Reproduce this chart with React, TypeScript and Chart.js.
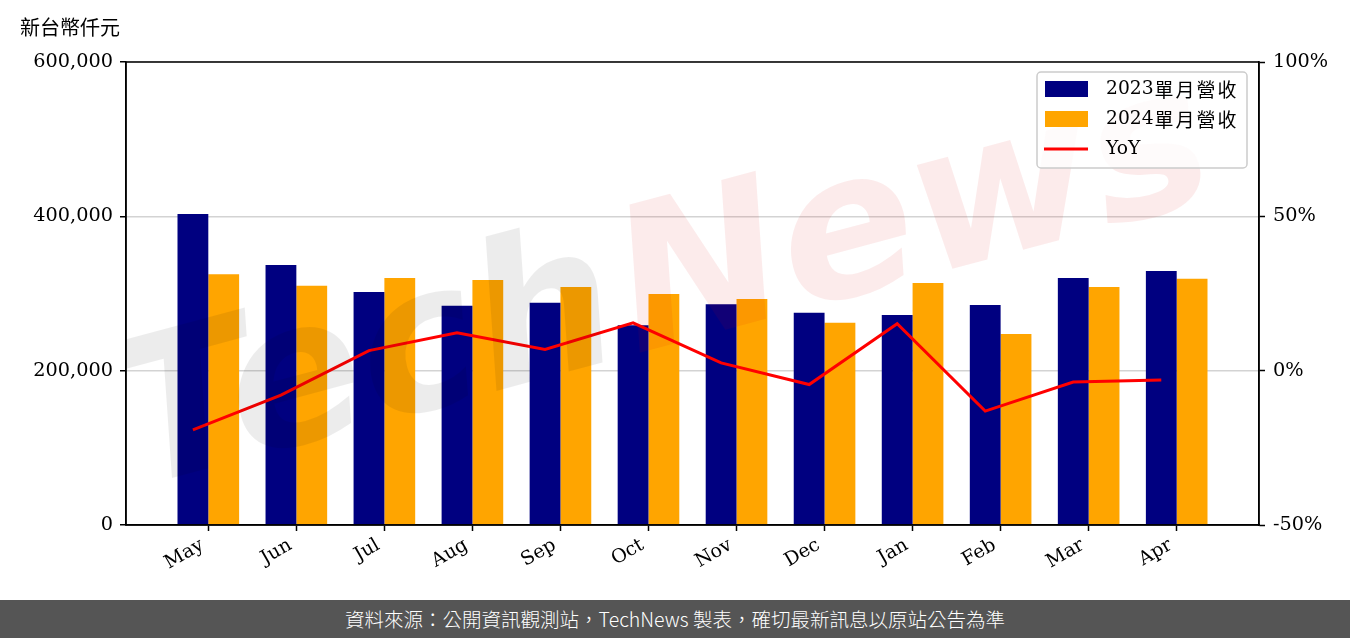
import React, { useEffect, useRef } from "react";
import { Chart, registerables } from "chart.js";

Chart.register(...registerables);

const months = ["May", "Jun", "Jul", "Aug", "Sep", "Oct", "Nov", "Dec", "Jan", "Feb", "Mar", "Apr"];
const rev2023 = [403000, 337000, 302000, 284000, 288000, 259000, 286000, 275000, 272000, 285000, 320000, 329000];
const rev2024 = [325000, 310000, 320000, 317500, 308500, 299500, 293000, 262000, 313500, 247500, 308500, 319000];
const yoy = [-19.2, -7.9, 6.5, 12.3, 6.9, 15.5, 2.5, -4.5, 15.2, -13.1, -3.7, -3.0];
const leftTicks = [0, 200000, 400000, 600000];
const rightTicks = [-50, 0, 50, 100];

const BAR_W = 0.35; // width of one bar in category units
const SERIF = "'DejaVu Serif', 'Noto Sans CJK TC', serif";
const CJK = "'Noto Sans CJK TC', sans-serif";

const frame = {
  id: "frame",
  afterDraw(chart: any) {
    const { ctx, chartArea: a } = chart;
    ctx.save();
    ctx.strokeStyle = "#000";
    ctx.lineWidth = 1.5;
    ctx.strokeRect(a.left, a.top, a.right - a.left, a.bottom - a.top);
    ctx.restore();
  },
};

const watermark = {
  id: "watermark",
  afterDatasetsDraw(chart: any) {
    const { ctx, chartArea: a } = chart;
    ctx.save();
    ctx.beginPath();
    ctx.rect(a.left, a.top, a.right - a.left, a.bottom - a.top);
    ctx.clip();
    ctx.translate(a.left + 12, a.top + 425);
    ctx.rotate((-15 * Math.PI) / 180);
    ctx.font = "bold italic 200px 'DejaVu Sans', sans-serif";
    ctx.textBaseline = "alphabetic";
    ctx.fillStyle = "rgba(0,0,0,0.075)";
    ctx.fillText("Tech", 0, 0);
    const w = ctx.measureText("Tech").width;
    ctx.fillStyle = "rgba(220,0,0,0.08)";
    ctx.fillText("News", w + 8, 0);
    ctx.restore();
  },
};

const legendBox = {
  id: "legendBox",
  afterDraw(chart: any) {
    const { ctx } = chart;
    const x = 1037, y = 72, w = 210, h = 96, r = 4;
    ctx.save();
    ctx.fillStyle = "rgba(255,255,255,0.8)";
    ctx.strokeStyle = "#cccccc";
    ctx.lineWidth = 1.5;
    ctx.beginPath();
    ctx.roundRect(x, y, w, h, r);
    ctx.fill();
    ctx.stroke();
    const items = [
      { num: "2023", cjk: "單月營收", color: "#000080", kind: "bar" },
      { num: "2024", cjk: "單月營收", color: "#FFA500", kind: "bar" },
      { num: "YoY", cjk: "", color: "#FF0000", kind: "line" },
    ];
    ctx.textBaseline = "middle";
    ctx.textAlign = "left";
    items.forEach((it, i) => {
      const cy = 89 + i * 30;
      if (it.kind === "bar") {
        ctx.fillStyle = it.color;
        ctx.fillRect(1045, cy - 8, 43, 16);
      } else {
        ctx.strokeStyle = it.color;
        ctx.lineWidth = 3;
        ctx.beginPath();
        ctx.moveTo(1044, cy);
        ctx.lineTo(1088, cy);
        ctx.stroke();
      }
      ctx.fillStyle = "#000";
      ctx.font = `18.7px ${SERIF}`;
      ctx.fillText(it.num, 1106, cy);
      let cx = 1106 + ctx.measureText(it.num).width + 1;
      ctx.font = `19px ${CJK}`;
      for (const ch of it.cjk) {
        ctx.fillText(ch, cx, cy + 1);
        cx += 21;
      }
    });
    ctx.restore();
  },
};

export default function App() {
  const ref = useRef<HTMLCanvasElement | null>(null);
  useEffect(() => {
    if (!ref.current) return;
    const chart = new Chart(ref.current, {
      type: "bar",
      data: {
        datasets: [
          {
            type: "line",
            label: "YoY",
            data: yoy.map((v, i) => ({ x: i - BAR_W / 2, y: v })),
            yAxisID: "y1",
            borderColor: "#FF0000",
            borderWidth: 3,
            pointRadius: 0,
            tension: 0,
            order: 0,
          } as any,
          {
            label: "2023單月營收",
            data: rev2023.map((v, i) => ({ x: i, y: v })),
            backgroundColor: "#000080",
            yAxisID: "y",
            barPercentage: 1,
            categoryPercentage: BAR_W * 2,
            order: 1,
          },
          {
            label: "2024單月營收",
            data: rev2024.map((v, i) => ({ x: i, y: v })),
            backgroundColor: "#FFA500",
            yAxisID: "y",
            barPercentage: 1,
            categoryPercentage: BAR_W * 2,
            order: 1,
          },
        ],
      },
      options: {
        animation: false,
        responsive: false,
        maintainAspectRatio: false,
        layout: { padding: { top: 62, left: 0, right: 0, bottom: 0 } },
        plugins: { legend: { display: false }, tooltip: { enabled: false } },
        scales: {
          x: {
            type: "linear",
            min: -0.935,
            max: 11.935,
            offset: false,
            afterBuildTicks: (s: any) => {
              s.ticks = months.map((_, i) => ({ value: i }));
            },
            afterFit: (s: any) => {
              s.height = 75;
            },
            ticks: {
              autoSkip: false,
              maxRotation: 30,
              minRotation: 30,
              padding: 3,
              labelOffset: -6,
              color: "#000",
              font: { family: SERIF, size: 19 },
              callback: (v: any) => months[v] ?? "",
            },
            grid: { drawOnChartArea: false, offset: false, tickLength: 6, color: "#000", tickColor: "#000", tickWidth: 1.5 },
            border: { color: "#000", width: 1.5 },
          },
          y: {
            position: "left",
            min: 0,
            max: 600000,
            afterBuildTicks: (s: any) => {
              s.ticks = leftTicks.map((v) => ({ value: v }));
            },
            afterFit: (s: any) => {
              s.width = 126;
            },
            ticks: {
              padding: 7,
              color: "#000",
              font: { family: SERIF, size: 19.3 },
              callback: (v: any) => Number(v).toLocaleString("en-US"),
            },
            grid: { color: "#d3d3d3", lineWidth: 1.5, tickLength: 6, tickColor: "#000", tickWidth: 1.5 },
            border: { color: "#000", width: 1.5 },
          },
          y1: {
            position: "right",
            min: -50,
            max: 100,
            afterBuildTicks: (s: any) => {
              s.ticks = rightTicks.map((v) => ({ value: v }));
            },
            afterFit: (s: any) => {
              s.width = 91;
            },
            ticks: {
              padding: 8,
              color: "#000",
              font: { family: SERIF, size: 19.3 },
              callback: (v: any) => `${v}%`,
            },
            grid: { drawOnChartArea: false, tickLength: 6, tickColor: "#000", tickWidth: 1.5 },
            border: { color: "#000", width: 1.5 },
          },
        },
      },
      plugins: [watermark, legendBox, frame],
    } as any);
    return () => chart.destroy();
  }, []);

  return (
    <div style={{ position: "fixed", left: 0, top: 0, width: 1350, height: 638, background: "#fff", overflow: "hidden" }}>
      <canvas ref={ref} width={1350} height={600} style={{ position: "absolute", left: 0, top: 0, width: 1350, height: 600 }} />
      <div
        style={{
          position: "absolute",
          left: 20,
          top: 13,
          fontFamily: CJK,
          fontSize: 20,
          lineHeight: "28px",
          color: "#000",
        }}
      >
        新台幣仟元
      </div>
      <div
        style={{
          position: "absolute",
          left: 0,
          top: 600,
          width: 1350,
          height: 38,
          background: "#555555",
          color: "#fff",
          fontFamily: CJK,
          fontSize: 19.5,
          fontWeight: 300,
          lineHeight: "38px",
          textAlign: "center",
        }}
      >
        資料來源：公開資訊觀測站，TechNews 製表，確切最新訊息以原站公告為準
      </div>
    </div>
  );
}
